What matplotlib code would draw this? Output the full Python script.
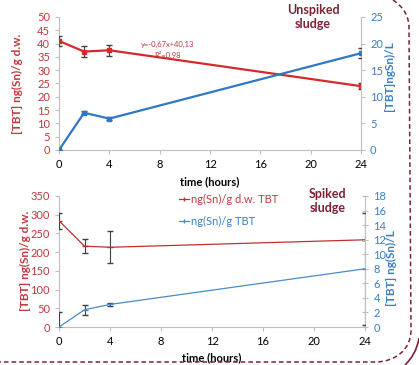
import matplotlib
matplotlib.use("Agg")
from matplotlib import pyplot as plt
from matplotlib.path import Path
from matplotlib.patches import PathPatch
from matplotlib.lines import Line2D

plt.rcParams['font.family'] = ['Lato', 'DejaVu Sans']

RED = '#d42a2a'
REDTXT = '#c0393d'
BLUE = '#2f78c4'
BLUETXT = '#3d7fc2'
MAROON = '#7b2335'
GRAY = '#bfbfbf'

# Unspiked sludge
hours_top = [0, 2, 4, 24]
red_top = [41.0, 37.0, 37.5, 24.0]
red_top_err = [2.0, 2.0, 2.0, 1.0]
blue_top = [0.0, 7.0, 5.9, 18.2]
blue_top_err = [0.0, 0.3, 0.3, 1.0]

# Spiked sludge
hours_bot = [0, 2, 4, 24]
red_bot = [284, 216, 213, 233]
red_bot_err = [21, 19, 43, 0]
blue_bot = [0.0, 2.37, 3.1, 8.0]
blue_bot_err = [2.06, 0.72, 0.2, 7.7]

xticks = [0, 4, 8, 12, 16, 20, 24]
legend_labels = ['ng(Sn)/g d.w. TBT', 'ng(Sn)/g TBT']

fig = plt.figure(figsize=(4.19, 3.65), dpi=100)
W, H = 419, 365


def style(ax, ax2):
    for a in (ax, ax2):
        for s in a.spines.values():
            s.set_color(GRAY)
            s.set_linewidth(0.8)
        a.spines['top'].set_visible(False)
    ax.spines['right'].set_visible(False)
    ax2.spines['left'].set_visible(False)
    ax2.spines['bottom'].set_visible(False)
    ax.tick_params(axis='y', colors=GRAY, labelcolor=REDTXT, labelsize=8, length=3, width=0.8)
    ax.tick_params(axis='x', colors=GRAY, labelcolor='black', labelsize=8, length=3, width=0.8)
    ax2.tick_params(axis='y', colors=GRAY, labelcolor=BLUETXT, labelsize=8, length=3, width=0.8)
    ax.set_xlim(0, 24)
    ax.set_xticks(xticks)


# ---- top panel ----
ax = fig.add_axes([59 / W, 1 - 150 / H, 302 / W, 133 / H])
ax2 = ax.twinx()
style(ax, ax2)
ax.set_ylim(0, 50)
ax.set_yticks(range(0, 51, 5))
ax2.set_ylim(0, 25)
ax2.set_yticks(range(0, 26, 5))
ax.errorbar(hours_top, red_top, yerr=red_top_err, color=RED, lw=1.6, marker='s', ms=3,
            ecolor='#404040', elinewidth=0.8, capsize=2, zorder=3)
ax2.errorbar(hours_top, blue_top, yerr=blue_top_err, color=BLUE, lw=1.6, marker='s', ms=3,
             ecolor='#404040', elinewidth=0.8, capsize=2, zorder=3)
ax.set_ylabel('[TBT] ng(Sn)/g d.w.', color=REDTXT, fontsize=8.5, fontweight='bold')
ax.yaxis.set_label_coords(-0.119, 0.5)
ax2.set_ylabel('[TBT]ngSn)/L', color=BLUETXT, fontsize=8.5, fontweight='bold')
ax2.yaxis.set_label_coords(1.075, 0.556)
ax.set_xlabel('time (hours)', fontsize=8, fontweight='bold')
ax.xaxis.set_label_coords(0.5, -0.195)
ax.text(0.358, 0.797, 'y=-0,67x+40,13', transform=ax.transAxes, ha='center', va='center',
        fontsize=5.5, color=REDTXT)
ax.text(0.358, 0.714, 'R²=0,98', transform=ax.transAxes, ha='center', va='center',
        fontsize=5.5, color=REDTXT)

# ---- bottom panel ----
bx = fig.add_axes([59 / W, 1 - 327 / H, 306 / W, 131 / H])
bx2 = bx.twinx()
style(bx, bx2)
bx2.tick_params(axis='y', direction='inout', length=5)
bx.set_ylim(0, 350)
bx.set_yticks(range(0, 351, 50))
bx2.set_ylim(0, 18)
bx2.set_yticks(range(0, 19, 2))
bx.errorbar(hours_bot, red_bot, yerr=red_bot_err, color='#c03030', lw=0.9, marker='_', ms=4,
            ecolor='#404040', elinewidth=0.8, capsize=2, zorder=3)
bx2.errorbar(hours_bot, blue_bot, yerr=blue_bot_err, color='#4a8ac8', lw=0.9, marker='_', ms=4,
             ecolor='#404040', elinewidth=0.8, capsize=2, zorder=3)
bx.set_ylabel('[TBT] ng(Sn)/g d.w.', color=REDTXT, fontsize=8.5, fontweight='bold')
bx.yaxis.set_label_coords(-0.092, 0.504)
bx2.set_ylabel('[TBT] ng(Sn)/L', color=BLUETXT, fontsize=8.5, fontweight='bold')
bx2.yaxis.set_label_coords(1.07, 0.45)
bx.set_xlabel('time (hours)', fontsize=8, fontweight='bold')
bx.xaxis.set_label_coords(0.5, -0.19)
handles = [Line2D([], [], color='#c03030', lw=0.9, marker='|', ms=3),
           Line2D([], [], color='#4a8ac8', lw=0.9, marker='|', ms=3)]
leg = bx.legend(handles, legend_labels, loc='upper left', bbox_to_anchor=(0.36, 1.095),
                frameon=False, fontsize=8, handlelength=0.9, handletextpad=0.2,
                labelspacing=1.05)
for t, c in zip(leg.get_texts(), [REDTXT, BLUETXT]):
    t.set_color(c)

# titles
fig.text(313 / W, 1 - 17.5 / H, 'Unspiked\nsludge', ha='center', va='center', fontsize=9,
         fontweight='bold', color=MAROON, linespacing=1.2)
fig.text(328 / W, 1 - 201 / H, 'Spiked\nsludge', ha='center', va='center', fontsize=9,
         fontweight='bold', color=MAROON, linespacing=1.2)

# dashed rounded frame
def fp(x, y):
    return (x / W, 1 - y / H)

verts = [fp(393, 0), fp(405, 8), fp(409, 18), fp(409, 28),
         fp(411, 330),
         fp(411, 350), fp(395, 362), fp(375, 362),
         fp(0, 362)]
codes = [Path.MOVETO, Path.CURVE4, Path.CURVE4, Path.CURVE4,
         Path.LINETO,
         Path.CURVE4, Path.CURVE4, Path.CURVE4,
         Path.LINETO]
fig.patches.append(PathPatch(Path(verts, codes), transform=fig.transFigure, fill=False,
                             edgecolor=MAROON, lw=1.1, linestyle=(0, (3, 2))))
arc = [fp(419, 338), fp(417, 350), fp(412, 358), fp(405, 365)]
fig.patches.append(PathPatch(Path(arc, [Path.MOVETO, Path.CURVE4, Path.CURVE4, Path.CURVE4]),
                             transform=fig.transFigure, fill=False, edgecolor=MAROON, lw=1.2))

fig.savefig('out.png', dpi=100)
